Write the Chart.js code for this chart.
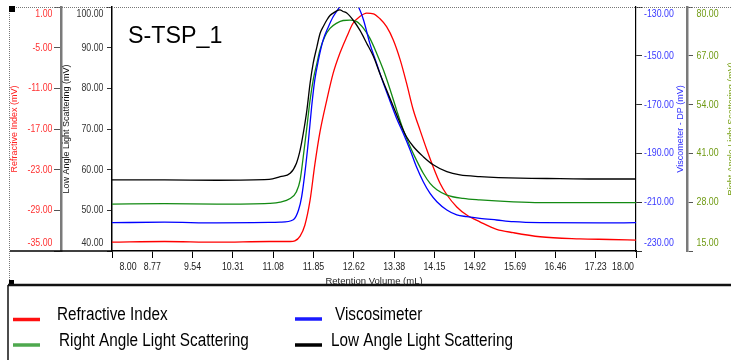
<!DOCTYPE html>
<html><head><meta charset="utf-8">
<script src="https://cdn.jsdelivr.net/npm/chart.js@4/dist/chart.umd.min.js"></script>
<style>html,body{margin:0;padding:0;background:#fff;overflow:hidden}#wrap{position:relative;width:731px;height:360px}</style>
</head><body><div id="wrap"><canvas id="c" width="731" height="360"></canvas></div>
<script>
const chartTitle = 'S-TSP_1';
const seriesNames = ['Refractive Index', 'Viscosimeter', 'Right Angle Light Scattering', 'Low Angle Light Scattering'];
const axisTitles = ['Refractive Index (mV)', 'Viscometer - DP (mV)', 'Right Angle Light Scattering (mV)', 'Low Angle Light Scattering (mV)'];
const xTitle = 'Retention Volume (mL)';

// Refractive Index (left outer axis)
const riX = [8.00, 9.00, 10.00, 11.00, 11.40, 11.49, 11.59, 11.68, 11.78, 11.87, 11.97, 12.10, 12.22, 12.35, 12.48, 12.60, 12.73, 12.86, 12.99, 13.11, 13.24, 13.37, 13.50, 13.62, 13.75, 13.88, 14.01, 14.13, 14.26, 14.39, 14.58, 14.77, 15.02, 15.34, 15.66, 16.17, 16.93, 17.50, 18.00];
const riY = [-33.7, -33.6, -33.7, -33.6, -33.6, -33.5, -32.8, -31.2, -27.5, -22.3, -17.4, -12.7, -8.8, -5.8, -3.4, -1.4, -0.4, 0.1, 0.0, -0.7, -1.9, -3.9, -6.8, -10.2, -14.2, -17.2, -20.1, -22.6, -25.0, -26.7, -28.5, -29.7, -30.7, -31.8, -32.3, -32.9, -33.2, -33.3, -33.4];

// Viscometer (right inner axis)
const viscX = [8.00, 9.00, 10.00, 11.00, 11.21, 11.46, 11.56, 11.62, 11.68, 11.75, 11.81, 11.87, 11.94, 12.03, 12.13, 12.22, 12.34, 12.50, 12.70, 12.80, 12.92, 13.05, 13.18, 13.31, 13.43, 13.56, 13.69, 13.81, 13.94, 14.07, 14.20, 14.39, 14.58, 14.77, 15.02, 15.34, 15.66, 16.17, 17.31, 18.00];
const viscY = [-218.4, -218.2, -218.5, -218.3, -218.2, -217.2, -213.2, -207.7, -198.2, -184.5, -170.9, -159.9, -151.7, -143.5, -138.1, -134.0, -130.1, -125.5, -129.9, -135.3, -144.9, -153.1, -161.3, -168.8, -175.6, -181.8, -188.6, -195.5, -201.6, -206.4, -209.8, -213.2, -215.2, -215.9, -216.6, -217.3, -218.0, -218.4, -218.5, -218.4];

// Right Angle Light Scattering (right outer axis)
const ralsX = [8.00, 9.00, 10.00, 11.00, 11.21, 11.40, 11.52, 11.59, 11.65, 11.72, 11.78, 11.84, 11.91, 11.97, 12.06, 12.16, 12.29, 12.41, 12.54, 12.67, 12.80, 12.92, 13.05, 13.18, 13.31, 13.43, 13.56, 13.69, 13.81, 13.94, 14.07, 14.20, 14.39, 14.70, 15.02, 15.66, 16.17, 18.00];
const ralsY = [27.5, 27.6, 27.5, 27.7, 28.0, 29.0, 30.8, 33.9, 40.1, 48.1, 55.2, 60.6, 65.0, 68.6, 72.1, 74.3, 75.7, 76.4, 76.5, 76.1, 74.3, 71.7, 67.7, 63.2, 57.9, 52.6, 47.2, 42.8, 39.2, 35.7, 33.0, 31.3, 29.9, 29.0, 28.6, 28.1, 27.9, 27.9];

// Low Angle Light Scattering (left inner axis)
const lalsX = [8.00, 9.00, 10.00, 11.00, 11.21, 11.40, 11.52, 11.59, 11.65, 11.72, 11.78, 11.84, 11.91, 11.97, 12.04, 12.10, 12.16, 12.22, 12.28, 12.35, 12.41, 12.48, 12.60, 12.73, 12.86, 12.99, 13.11, 13.24, 13.37, 13.50, 13.62, 13.75, 13.94, 14.13, 14.39, 14.64, 15.02, 15.79, 16.55, 17.31, 18.00];
const lalsY = [57.5, 57.5, 57.4, 57.6, 58.3, 59.1, 61.6, 64.8, 68.9, 74.7, 81.2, 86.2, 90.2, 93.5, 95.4, 96.8, 97.9, 98.5, 99.0, 99.3, 98.9, 98.5, 96.8, 94.3, 91.1, 87.8, 83.7, 79.6, 75.5, 71.4, 68.1, 65.7, 63.2, 61.2, 59.5, 58.7, 58.3, 57.9, 57.8, 57.7, 57.7];

// Tick values and labels
const xTickValues = [8.000, 8.769, 9.538, 10.308, 11.077, 11.846, 12.615, 13.385, 14.154, 14.923, 15.692, 16.462, 17.231, 18.000];
const xTickLabels = ['8.00', '8.77', '9.54', '10.31', '11.08', '11.85', '12.62', '13.38', '14.15', '14.92', '15.69', '16.46', '17.23', '18.00'];
const riTicks = [-35, -29, -23, -17, -11, -5, 1];
const lalsTicks = [40, 50, 60, 70, 80, 90, 100];
const viscTicks = [-230, -210, -190, -170, -150, -130];
const ralsTicks = [15, 28, 41, 54, 67, 80];

const seriesColors = ['#ff0000', '#0000ff', '#138a13', '#000000'];
const legendColors = ['#ff1010', '#1a1aff', '#4ea84e', '#000000'];

function pts(xs, ys) { return xs.map((x, i) => ({ x: x, y: ys[i] })); }
function setTicks(vals) { return s => { s.ticks = vals.map(v => ({ value: v })); }; }

Chart.defaults.font.family = '"Liberation Sans", Arial, sans-serif';

const FONT = '"Liberation Sans", Arial, sans-serif';
function txt(ctx, s, x, y, align, color, size, sx, base) {
  ctx.save();
  ctx.translate(x, y);
  ctx.scale(sx, 1);
  ctx.font = size + 'px ' + FONT;
  ctx.fillStyle = color;
  ctx.textAlign = align;
  ctx.textBaseline = base || 'middle';
  ctx.fillText(s, 0, 0);
  ctx.restore();
}
function rtxt(ctx, s, x, y, color, size) {
  ctx.save();
  ctx.translate(x, y);
  ctx.rotate(-Math.PI / 2);
  ctx.font = size + 'px ' + FONT;
  ctx.fillStyle = color;
  ctx.textAlign = 'center';
  ctx.textBaseline = 'middle';
  ctx.fillText(s, 0, 0);
  ctx.restore();
}
function line(ctx, x1, y1, x2, y2, color, w, dash) {
  ctx.save();
  ctx.beginPath();
  ctx.strokeStyle = color;
  ctx.lineWidth = w;
  ctx.setLineDash(dash || []);
  ctx.moveTo(x1, y1);
  ctx.lineTo(x2, y2);
  ctx.stroke();
  ctx.restore();
}

const deco = {
  id: 'deco',
  afterDraw(chart) {
    const ctx = chart.ctx;
    const a = chart.chartArea;
    const S = chart.scales;
    const W = chart.width;
    // frame decorations
    line(ctx, 10, a.top + 0.5, W, a.top + 0.5, '#777', 1, [1, 1]);
    line(ctx, 9.5, a.top, 9.5, 285, '#777', 1, [1, 1]);
    line(ctx, 10, a.bottom, a.left, a.bottom, '#000', 1.5);
    ctx.fillStyle = '#000';
    ctx.fillRect(9, 6, 6, 6);
    ctx.fillRect(9, 280, 5, 5);
    line(ctx, 8, 285, W, 285, '#111', 2.5);
    line(ctx, 8, 285, 8, chart.height, '#111', 1.5);

    const TS = 11, SX = 0.8;
    const clampY = y => Math.min(Math.max(y, a.top + 7), a.bottom - 8);
    riTicks.forEach(v => txt(ctx, v.toFixed(2), 52.5, clampY(S.yRI.getPixelForValue(v)), 'right', '#ff3333', TS, SX));
    lalsTicks.forEach(v => txt(ctx, v.toFixed(2), 103.5, clampY(S.yLALS.getPixelForValue(v)), 'right', '#333333', TS, SX));
    viscTicks.forEach(v => txt(ctx, v.toFixed(2), S.yVisc.left + 8, clampY(S.yVisc.getPixelForValue(v)), 'left', '#3838ff', TS, SX));
    ralsTicks.forEach(v => txt(ctx, v.toFixed(2), S.yRALS.left + 9.5, clampY(S.yRALS.getPixelForValue(v)), 'left', '#6f9a12', TS, SX));
    xTickValues.forEach((v, i) => {
      let x = S.x.getPixelForValue(v);
      if (i === 0) x += 16;
      if (i === xTickValues.length - 1) x -= 13;
      txt(ctx, xTickLabels[i], x, 267, 'center', '#222', TS, SX);
    });

    const cy = (a.top + a.bottom) / 2;
    rtxt(ctx, axisTitles[0], 15, cy, '#ff2020', 9);
    rtxt(ctx, axisTitles[3], 66.5, cy, '#111', 9);
    rtxt(ctx, axisTitles[1], 681, cy, '#3030ff', 9);
    rtxt(ctx, axisTitles[2], 732, cy, '#7aa218', 9);
    txt(ctx, xTitle, (a.left + a.right) / 2, 281, 'center', '#222', 9.5, 1);

    txt(ctx, chartTitle, 128, 43, 'left', '#000', 24, 0.97, 'alphabetic');

    // legend
    const items = [
      { i: 0, x1: 13, x2: 40, ly: 319.5, tx: 57, ty: 319.5 },
      { i: 1, x1: 295, x2: 322, ly: 319, tx: 335, ty: 319.5 },
      { i: 2, x1: 13, x2: 40, ly: 345, tx: 59, ty: 346 },
      { i: 3, x1: 295, x2: 322, ly: 345, tx: 331, ty: 346 }
    ];
    items.forEach(it => {
      line(ctx, it.x1, it.ly, it.x2, it.ly, legendColors[it.i], 3.5);
      txt(ctx, seriesNames[it.i], it.tx, it.ty, 'left', '#000', 18, 0.85, 'alphabetic');
    });
  }
};

const baseGrid = (len, col) => ({ drawOnChartArea: false, drawTicks: true, tickLength: len, tickColor: col, tickWidth: 1 });

new Chart(document.getElementById('c'), {
  type: 'line',
  data: {
    datasets: [
      { label: seriesNames[3], data: pts(lalsX, lalsY), yAxisID: 'yLALS', borderColor: seriesColors[3] },
      { label: seriesNames[1], data: pts(viscX, viscY), yAxisID: 'yVisc', borderColor: seriesColors[1] },
      { label: seriesNames[2], data: pts(ralsX, ralsY), yAxisID: 'yRALS', borderColor: seriesColors[2] },
      { label: seriesNames[0], data: pts(riX, riY), yAxisID: 'yRI', borderColor: seriesColors[0] }
    ]
  },
  options: {
    responsive: false,
    animation: false,
    devicePixelRatio: 1,
    layout: { padding: { top: 7, left: 0, right: 0, bottom: 0 } },
    elements: { point: { radius: 0 }, line: { borderWidth: 1.3, cubicInterpolationMode: 'monotone', fill: false } },
    plugins: { legend: { display: false }, tooltip: { enabled: false }, title: { display: false } },
    scales: {
      x: {
        type: 'linear', position: 'bottom', min: 8, max: 18,
        afterBuildTicks: setTicks(xTickValues),
        afterFit: s => { s.height = 109; },
        ticks: { display: false },
        grid: baseGrid(7, '#000'),
        border: { display: true, color: '#000', width: 1.5 }
      },
      yRI: {
        type: 'linear', position: 'left', weight: 1, min: -35, max: 1,
        afterBuildTicks: setTicks(riTicks),
        afterFit: s => { s.width = 61; },
        ticks: { display: false },
        grid: baseGrid(7, '#555'),
        border: { display: true, color: '#7a7a7a', width: 2.5 }
      },
      yLALS: {
        type: 'linear', position: 'left', weight: 0, min: 40, max: 100,
        afterBuildTicks: setTicks(lalsTicks),
        afterFit: s => { s.width = 51; },
        ticks: { display: false },
        grid: baseGrid(5, '#333'),
        border: { display: true, color: '#000', width: 1.5 }
      },
      yVisc: {
        type: 'linear', position: 'right', weight: 0, min: -230, max: -130,
        afterBuildTicks: setTicks(viscTicks),
        afterFit: s => { s.width = 51; },
        ticks: { display: false },
        grid: baseGrid(6, '#333'),
        border: { display: true, color: '#000', width: 1.2 }
      },
      yRALS: {
        type: 'linear', position: 'right', weight: 1, min: 15, max: 80,
        afterBuildTicks: setTicks(ralsTicks),
        afterFit: s => { s.width = 44; },
        ticks: { display: false },
        grid: baseGrid(6, '#555'),
        border: { display: true, color: '#7a7a7a', width: 2.5 }
      }
    }
  },
  plugins: [deco]
});
</script>
</body></html>
